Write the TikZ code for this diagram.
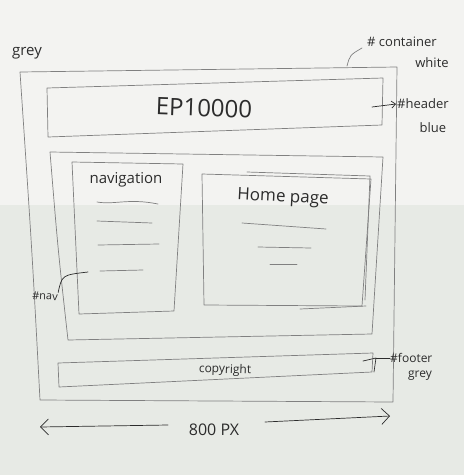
\documentclass[tikz,border=0pt]{standalone}
\usepackage{fontspec}
\setmainfont{Open Sans}
\usetikzlibrary{arrows.meta}
\definecolor{paper}{HTML}{F3F3F1}
\definecolor{paperlow}{HTML}{E7EAE5}
\definecolor{pencil}{HTML}{808080}
\definecolor{ink}{HTML}{2C2C2C}
\begin{document}
\begin{tikzpicture}[x=1pt,y=-1pt,
  frame/.style={draw=pencil, line width=0.7pt, line join=round},
  scribble/.style={draw=pencil, line width=0.7pt, line cap=round},
  label/.style={text=ink, inner sep=0pt},
  note/.style={draw=ink, line width=0.7pt, line cap=round, line join=round},
  barb/.style={-{Straight Barb[length=8pt,width=16pt]}},
]
% paper
\fill[paper] (0,0) rectangle (464,475);
\fill[paperlow] (0,205) rectangle (464,475);
\useasboundingbox (0,0) rectangle (464,475);

% page container
\draw[frame] (20,72) -- (397,67) -- (393,402) -- (40,400) .. controls (32,250) .. cycle;

% header bar
\draw[frame] (47,88) -- (383,78) -- (382,125) -- (48,137) -- cycle;
\node[label, font=\fontsize{24}{24}\selectfont, rotate=-2] (title) at (204,108) {EP10000};

% main content area
\draw[frame] (50,152) -- (383,157) -- (372,334) -- (68,340) .. controls (58,250) .. cycle;

% navigation column
\draw[frame] (72,162) -- (183,164) -- (174,311) -- (79,314) -- cycle;
\node[label, font=\fontsize{15}{15}\selectfont] (navtitle) at (126,180) {navigation};
\draw[scribble] (97,202) .. controls (115,205) and (128,198) .. (158,204);
\draw[scribble] (97,221) -- (152,223);
\draw[scribble] (98,245) -- (159,244);
\draw[scribble] (100,271) -- (143,270);
\coordinate (navtip) at (88,272);

% home page panel
\draw[frame] (202,174) -- (371,179) -- (362,306) -- (204,305) -- cycle;
\draw[scribble] (247,172) -- (370,176) -- (365,300);
\draw[scribble] (300,309) -- (366,306);
\node[label, font=\fontsize{17}{17}\selectfont, rotate=-3] (hometitle) at (283,198) {Home page};
\draw[scribble] (242,223) -- (326,229);
\draw[scribble] (258,247) -- (311,248);
\draw[scribble] (270,264) -- (297,264);

% footer bar
\draw[frame] (58,363) -- (373,353) -- (372,372) -- (59,387) -- cycle;
\node[label, font=\fontsize{12}{12}\selectfont, rotate=-2] (copy) at (225,370) {copyright};

% annotations
\node[label, font=\fontsize{15}{15}\selectfont] (grey) at (27,53) {grey};
\node[label, font=\fontsize{13}{13}\selectfont, anchor=west] (contnote) at (367,42) {\# container};
\node[label, font=\fontsize{13}{13}\selectfont] (white) at (432,63) {white};
\coordinate (contedge) at (347,66);
\draw[scribble] (contedge) .. controls (350,55) .. (362,48);

\node[label, font=\fontsize{13}{13}\selectfont, anchor=west] (headnote) at (397,104) {\#header};
\node[label, font=\fontsize{13}{13}\selectfont] (blue) at (433,128) {blue};
\coordinate (headedge) at (372,107);
\draw[note, -{Straight Barb[length=4pt,width=7pt]}] (headedge) -- (396,104);

\node[label, font=\fontsize{11}{11}\selectfont, rotate=-3] (navnote) at (45,296) {\#nav};
\draw[note] (navnote.north east) .. controls (62,275) .. (navtip);

\node[label, font=\fontsize{12}{12}\selectfont, anchor=west] (footnote) at (390,358) {\#footer};
\node[label, font=\fontsize{12}{12}\selectfont] (footgrey) at (420,376) {grey};
\coordinate (footedge) at (363,361);
\draw[note] (footedge) -- (376,358) -- (374,372);
\draw[note] (376,358) -- (footnote.west);

% width dimension
\node[label, font=\fontsize{16}{16}\selectfont] (width) at (214,430) {800 PX};
\coordinate (wleft) at (40,427);
\coordinate (wright) at (390,416);
\draw[note, barb] (168,425) -- (wleft);
\draw[note, barb] (265,422) -- (wright);
\end{tikzpicture}
\end{document}
